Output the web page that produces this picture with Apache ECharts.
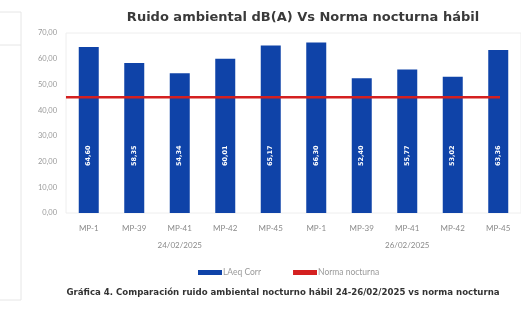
<!DOCTYPE html>
<html>
<head>
<meta charset="utf-8">
<script src="https://cdn.jsdelivr.net/npm/echarts@6/dist/echarts.min.js"></script>
<style>
  html, body { margin: 0; padding: 0; background: #fff; }
  #chart { width: 521px; height: 312px; }
</style>
</head>
<body>
<div id="chart"></div>
<script>
// puntos de medición y fechas
const puntos = ['MP-1', 'MP-39', 'MP-41', 'MP-42', 'MP-45', 'MP-1', 'MP-39', 'MP-41', 'MP-42', 'MP-45']
const fechas = ['24/02/2025', '26/02/2025']
// LAeq corregido dB(A)
const laeqCorr = [64.60, 58.35, 54.34, 60.01, 65.17, 66.30, 52.40, 55.77, 53.02, 63.36]
// norma nocturna hábil
const normaNocturna = [45, 45, 45, 45, 45, 45, 45, 45, 45, 45]

const coma = v => v.toFixed(2).replace('.', ',')
const font = 'Lato, "Open Sans", sans-serif'
const fontAncha = '"DejaVu Sans", sans-serif'

const chart = echarts.init(document.getElementById('chart'))
chart.setOption({
  backgroundColor: '#fff',
  animation: false,
  title: {
    text: 'Ruido ambiental dB(A) Vs Norma nocturna hábil',
    left: 298,
    textAlign: 'center',
    top: 6,
    textStyle: { fontFamily: fontAncha, fontSize: 13, fontWeight: 'bold', color: '#3a3a3a' }
  },
  legend: {
    left: 193,
    top: 263,
    itemWidth: 24,
    itemHeight: 5,
    itemGap: 32,
    textStyle: { fontFamily: font, fontSize: 8.5, color: '#9a9a9a', padding: [0, 0, 0, -4] },
    data: [
      { name: 'LAeq Corr', icon: 'rect' },
      { name: 'Norma nocturna', icon: 'rect' }
    ]
  },
  graphic: [
    // panel vecino recortado a la izquierda
    { type: 'rect', shape: { x: -5, y: 12, width: 26, height: 288 }, style: { fill: 'none', stroke: '#e6e6e6', lineWidth: 1 }, silent: true },
    { type: 'line', shape: { x1: 0, y1: 45, x2: 21, y2: 45 }, style: { stroke: '#e6e6e6', lineWidth: 1 }, silent: true },
    // pie de gráfica
    {
      type: 'text',
      x: 283,
      y: 288,
      style: {
        text: 'Gráfica 4. Comparación ruido ambiental nocturno hábil 24-26/02/2025 vs norma nocturna',
        align: 'center',
        fontFamily: fontAncha, fontSize: 8.6, fontWeight: 'bold', fill: '#333'
      }
    }
  ],
  grid: [
    { left: 66, right: -9, top: 33, height: 180, show: true, borderColor: '#eeeeee', backgroundColor: 'transparent' },
    { left: 66, right: 21, top: 33, height: 180 }
  ],
  xAxis: [
    {
      type: 'category',
      gridIndex: 0,
      data: puntos,
      axisLine: { show: false },
      axisTick: { show: false },
      axisLabel: { fontFamily: font, fontSize: 8, color: '#8a8a8a', margin: 11 }
    },
    {
      type: 'category',
      gridIndex: 0,
      data: fechas,
      position: 'bottom',
      offset: 28,
      axisLine: { show: false },
      axisTick: { show: false },
      axisLabel: { fontFamily: font, fontSize: 8, color: '#8a8a8a', margin: 0 }
    },
    {
      type: 'category',
      gridIndex: 1,
      data: puntos,
      boundaryGap: false,
      show: false
    }
  ],
  yAxis: [
    {
      type: 'value',
      gridIndex: 0,
      min: 0,
      max: 70,
      interval: 10,
      axisLine: { show: false },
      axisTick: { show: false },
      splitLine: { show: false },
      axisLabel: { fontFamily: font, fontSize: 7.5, color: '#9a9a9a', margin: 9, formatter: coma }
    },
    { type: 'value', gridIndex: 1, min: 0, max: 70, show: false }
  ],
  series: [
    {
      name: 'LAeq Corr',
      type: 'bar',
      xAxisIndex: 0,
      yAxisIndex: 0,
      data: laeqCorr,
      barWidth: 20,
      itemStyle: { color: '#0f43a8' },
      label: {
        show: true,
        position: 'insideBottom',
        distance: 47,
        rotate: 90,
        align: 'left',
        verticalAlign: 'middle',
        fontFamily: fontAncha,
        fontSize: 6.5,
        fontWeight: 'bold',
        color: '#fff',
        formatter: p => coma(p.value)
      }
    },
    {
      name: 'Norma nocturna',
      type: 'line',
      xAxisIndex: 2,
      yAxisIndex: 1,
      data: normaNocturna,
      symbol: 'none',
      lineStyle: { color: '#d42020', width: 2.5 },
      itemStyle: { color: '#d42020' }
    }
  ]
})
</script>
</body>
</html>
